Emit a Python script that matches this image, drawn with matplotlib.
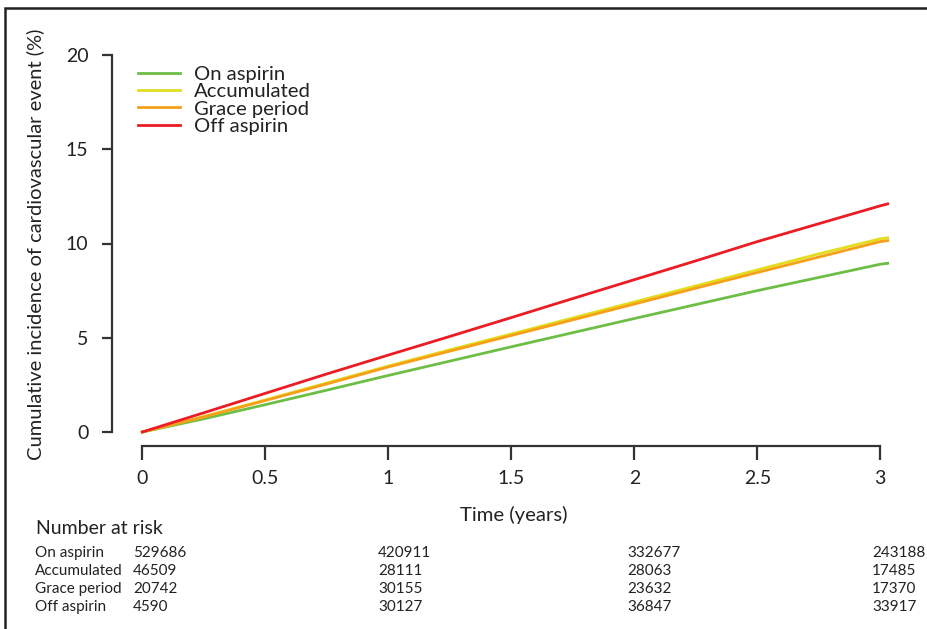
import matplotlib
matplotlib.use("Agg")
import matplotlib.pyplot as plt
from matplotlib.patches import Rectangle

# ---------------- data ----------------
time_years = [0.0, 0.25, 0.5, 0.75, 1.0, 1.25, 1.5, 1.75, 2.0, 2.25, 2.5, 2.75, 3.0, 3.03]
on_aspirin = [0.0, 0.7, 1.45, 2.22, 3.0, 3.76, 4.52, 5.27, 6.02, 6.76, 7.5, 8.2, 8.9, 8.95]
accumulated = [0.0, 0.82, 1.7, 2.6, 3.5, 4.36, 5.2, 6.05, 6.9, 7.75, 8.6, 9.45, 10.25, 10.3]
grace_period = [0.0, 0.8, 1.67, 2.55, 3.45, 4.29, 5.12, 5.95, 6.79, 7.63, 8.46, 9.28, 10.1, 10.15]
off_aspirin = [0.0, 1.02, 2.05, 3.08, 4.08, 5.07, 6.07, 7.08, 8.08, 9.08, 10.1, 11.05, 12.0, 12.1]

series_names = ["On aspirin", "Accumulated", "Grace period", "Off aspirin"]
series_values = [on_aspirin, accumulated, grace_period, off_aspirin]
series_colors = ["#6dbe45", "#e2de1e", "#f6a01a", "#ec1c24"]

x_ticks = [0, 0.5, 1, 1.5, 2, 2.5, 3]
x_tick_labels = ["0", "0.5", "1", "1.5", "2", "2.5", "3"]
y_ticks = [0, 5, 10, 15, 20]
y_tick_labels = ["0", "5", "10", "15", "20"]

risk_times = [0, 1, 2, 3]
risk_on_aspirin = [529686, 420911, 332677, 243188]
risk_accumulated = [46509, 28111, 28063, 17485]
risk_grace_period = [20742, 30155, 23632, 17370]
risk_off_aspirin = [4590, 30127, 36847, 33917]
risk_rows = [risk_on_aspirin, risk_accumulated, risk_grace_period, risk_off_aspirin]

# ---------------- layout ----------------
W, H = 927, 629
plt.rcParams['font.family'] = ['Lato', 'DejaVu Sans']
fig = plt.figure(figsize=(W / 100, H / 100), dpi=100)

def fx(px):
    return px / W

def fy(py):
    return 1 - py / H

x0_px, x3_px = 142.3, 880.3
y0_px, y20_px = 432, 55
ax = fig.add_axes([fx(x0_px), fy(y0_px), fx(x3_px) - fx(x0_px), fy(y20_px) - fy(y0_px)])
ax.set_xlim(0, 3)
ax.set_ylim(0, 20)
ax.patch.set_visible(False)

spine_col = "#333333"
for s in ["top", "right"]:
    ax.spines[s].set_visible(False)
ax.spines["left"].set_position(("outward", (x0_px - 111.5) * 0.72))
ax.spines["bottom"].set_position(("outward", (446 - y0_px) * 0.72))
ax.spines["left"].set_bounds(0, 20)
ax.spines["bottom"].set_bounds(0, 3)
for s in ["left", "bottom"]:
    ax.spines[s].set_color(spine_col)
    ax.spines[s].set_linewidth(1.6)

ax.set_xticks(x_ticks)
ax.set_xticklabels(x_tick_labels)
ax.set_yticks(y_ticks)
ax.set_yticklabels(y_tick_labels)
ax.tick_params(axis="x", length=10, width=1.6, color=spine_col, pad=7, labelsize=14, labelcolor="#222222")
ax.tick_params(axis="y", length=7.5, width=1.6, color=spine_col, pad=9, labelsize=14, labelcolor="#222222")

handles = []
for name, vals, col in zip(series_names, series_values, series_colors):
    (ln,) = ax.plot(time_years, vals, color=col, lw=2.0, label=name, clip_on=False)
    handles.append(ln)

leg = ax.legend(handles=handles, loc="upper left",
                bbox_to_anchor=(fx(138), fy(66)), bbox_transform=fig.transFigure,
                frameon=False, fontsize=14.6, handlelength=2.05, handletextpad=0.7,
                labelspacing=0.0, borderpad=0, borderaxespad=0)
for t in leg.get_texts():
    t.set_color("#222222")

# axis labels
fig.text(fx(35), fy(244), "Cumulative incidence of cardiovascular event (%)",
         rotation=90, ha="center", va="center", fontsize=14.5, color="#222222")
fig.text(fx(514), fy(515), "Time (years)", ha="center", va="center", fontsize=14.6, color="#222222")

# risk table
fig.text(fx(36), fy(529), "Number at risk", ha="left", va="center", fontsize=14, color="#222222")
row_y = [553, 571, 589, 607]
col_px = [133, 378, 627, 872]
for name, row, yy in zip(series_names, risk_rows, row_y):
    fig.text(fx(35), fy(yy), name, ha="left", va="center", fontsize=11, color="#222222")
    for v, cx in zip(row, col_px):
        fig.text(fx(cx), fy(yy), str(v), ha="left", va="center", fontsize=11, color="#222222")

# outer frame (left and top border)
fig.patches.append(Rectangle((fx(5), -0.05), 1.2, fy(8) + 0.05, transform=fig.transFigure,
                             fill=False, edgecolor="#222222", linewidth=1.8))

fig.savefig("out.png", dpi=100)
